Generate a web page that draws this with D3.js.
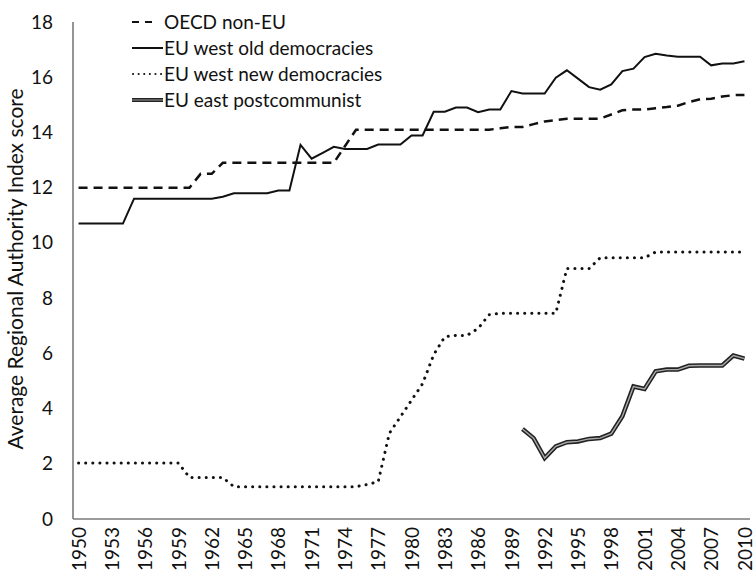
<!DOCTYPE html>
<html>
<head>
<meta charset="utf-8">
<style>
    body { margin: 0; background: #fff; }
    svg text { font-family: Lato, "Open Sans", sans-serif; fill: #111; }
</style>
</head>
<body>
<svg width="755" height="574"></svg>
<script src="https://d3js.org/d3.v7.min.js"></script>
<script>
// years on the x axis
var years = d3.range(1950, 2011);
var tickYears = [1950, 1953, 1956, 1959, 1962, 1965, 1968, 1971, 1974, 1977, 1980,
    1983, 1986, 1989, 1992, 1995, 1998, 2001, 2004, 2007, 2010];
var yTicks = [0, 2, 4, 6, 8, 10, 12, 14, 16, 18];

// series values, one per year 1950..2010
var oecdNonEU = [12.0, 12.0, 12.0, 12.0, 12.0, 12.0, 12.0, 12.0, 12.0, 12.0, 12.0,
    12.5, 12.5,
    12.9, 12.9, 12.9, 12.9, 12.9, 12.9, 12.9, 12.9, 12.9, 12.9, 12.9,
    13.5,
    14.1, 14.1, 14.1, 14.1, 14.1, 14.1, 14.1, 14.1, 14.1, 14.1, 14.1, 14.1, 14.1,
    14.15, 14.2, 14.2, 14.3, 14.4, 14.45, 14.5, 14.5, 14.5, 14.5, 14.65, 14.8, 14.83,
    14.83, 14.88, 14.92, 14.97, 15.1, 15.2, 15.22, 15.3, 15.35, 15.36];

var euWestOld = [10.7, 10.7, 10.7, 10.7, 10.7,
    11.6, 11.6, 11.6, 11.6, 11.6, 11.6, 11.6, 11.6,
    11.67, 11.8, 11.8, 11.8, 11.8, 11.9, 11.9,
    13.55, 13.05, 13.26, 13.48, 13.4, 13.4, 13.4, 13.56, 13.56, 13.56,
    13.89, 13.89, 14.75, 14.75, 14.9, 14.9, 14.73, 14.83, 14.83, 15.5,
    15.41, 15.41, 15.41, 15.98, 16.25, 15.95, 15.64, 15.55, 15.74, 16.22,
    16.31, 16.73, 16.85, 16.79, 16.74, 16.74, 16.74, 16.43, 16.5, 16.5, 16.58];

var euWestNew = [2.03, 2.03, 2.03, 2.03, 2.03, 2.03, 2.03, 2.03, 2.03, 2.03,
    1.5, 1.5, 1.5, 1.5,
    1.17, 1.17, 1.17, 1.17, 1.17, 1.17, 1.17, 1.17, 1.17, 1.17, 1.17, 1.17,
    1.25, 1.35, 3.1, 3.7, 4.3, 4.9, 5.95, 6.6, 6.65, 6.65, 6.9, 7.4,
    7.45, 7.45, 7.45, 7.45, 7.45, 7.45,
    9.07, 9.07, 9.07,
    9.46, 9.46, 9.46, 9.46, 9.46,
    9.67, 9.67, 9.67, 9.67, 9.67, 9.67, 9.67, 9.67, 9.67];

// postcommunist series only starts in 1990
var euEastYears = d3.range(1990, 2011);
var euEast = [3.26, 2.93, 2.21, 2.63, 2.78, 2.81, 2.9, 2.93, 3.09, 3.72, 4.8,
    4.71, 5.35, 5.41, 5.41, 5.55, 5.56, 5.56, 5.56, 5.92, 5.81];

var svg = d3.select("svg");

var x = d3.scalePoint()
    .domain(years)
    .range([73, 750])
    .padding(0.5);

var y = d3.scaleLinear()
    .domain([0, 18])
    .range([519, 22]);

var line = d3.line()
    .x(function(d) { return x(d[0]); })
    .y(function(d) { return y(d[1]); });

function pairs(xs, vs) {
    return xs.map(function(yr, i) { return [yr, vs[i]]; });
}

// axes: plain grey lines, no ticks
var gx = svg.append("g")
    .attr("transform", "translate(0,519)")
    .call(d3.axisBottom(x).tickValues(tickYears).tickSize(0).tickPadding(8));
gx.select(".domain").attr("stroke", "#7a7a7a").attr("stroke-width", 1.6)
    .attr("d", "M73,0H750");
gx.selectAll("text")
    .attr("font-size", 19)
    .attr("transform", "rotate(-90)")
    .attr("text-anchor", "end")
    .attr("x", -8)
    .attr("y", 0)
    .attr("dy", "0.35em");

var gy = svg.append("g")
    .attr("transform", "translate(73,0)")
    .call(d3.axisLeft(y).tickValues(yTicks).tickSize(0).tickPadding(20));
gy.select(".domain").attr("stroke", "#7a7a7a").attr("stroke-width", 1.6)
    .attr("d", "M0,22V519");
gy.selectAll("text").attr("font-size", 19);

svg.append("text")
    .attr("transform", "translate(16,269) rotate(-90)")
    .attr("text-anchor", "middle")
    .attr("dy", "0.35em")
    .attr("font-size", 21)
    .text("Average Regional Authority Index score");

// series lines
svg.append("path")
    .datum(pairs(years, oecdNonEU))
    .attr("fill", "none").attr("stroke", "#111").attr("stroke-width", 2.5)
    .attr("stroke-dasharray", "9,6")
    .attr("d", line);

svg.append("path")
    .datum(pairs(years, euWestOld))
    .attr("fill", "none").attr("stroke", "#111").attr("stroke-width", 2)
    .attr("d", line);

svg.append("path")
    .datum(pairs(years, euWestNew))
    .attr("fill", "none").attr("stroke", "#111").attr("stroke-width", 3)
    .attr("stroke-linecap", "round")
    .attr("stroke-dasharray", "0.1,7")
    .attr("d", line);

svg.append("path")
    .datum(pairs(euEastYears, euEast))
    .attr("fill", "none").attr("stroke", "#222").attr("stroke-width", 4.5)
    .attr("d", line);
svg.append("path")
    .datum(pairs(euEastYears, euEast))
    .attr("fill", "none").attr("stroke", "#aaa").attr("stroke-width", 1.4)
    .attr("d", line);

// legend
var legendNames = ["OECD non-EU", "EU west old democracies", "EU west new democracies", "EU east postcommunist"];
var legend = svg.append("g")
    .selectAll("g")
    .data(legendNames)
    .enter().append("g")
    .attr("transform", function(d, i) { return "translate(0," + (22 + i * 26) + ")"; });

legend.append("text")
    .attr("x", 164)
    .attr("dy", "0.35em")
    .attr("font-size", 19)
    .text(function(d) { return d; });

legend.each(function(d, i) {
    var g = d3.select(this);
    if (i == 0) {
        g.append("line").attr("x1", 132).attr("x2", 158).attr("stroke", "#111")
            .attr("stroke-width", 2).attr("stroke-dasharray", "7,6");
    } else if (i == 1) {
        g.append("line").attr("x1", 132).attr("x2", 163).attr("stroke", "#111").attr("stroke-width", 2);
    } else if (i == 2) {
        g.append("line").attr("x1", 133).attr("x2", 163).attr("stroke", "#111")
            .attr("stroke-width", 2).attr("stroke-linecap", "round").attr("stroke-dasharray", "0.1,5.5");
    } else {
        g.append("line").attr("x1", 132).attr("x2", 163).attr("stroke", "#222").attr("stroke-width", 4);
        g.append("line").attr("x1", 132).attr("x2", 163).attr("stroke", "#999").attr("stroke-width", 1);
    }
});
</script>
</body>
</html>
